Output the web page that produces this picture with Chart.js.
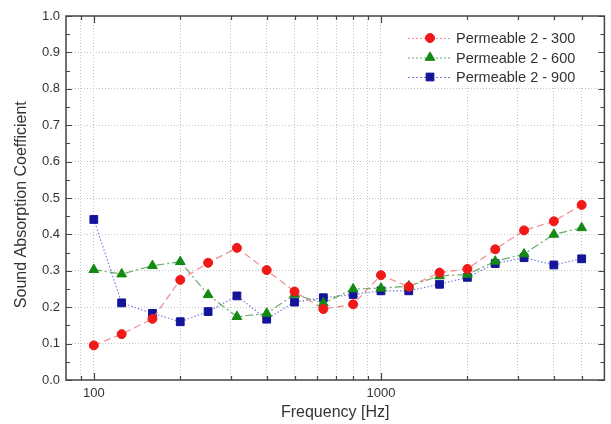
<!DOCTYPE html>
<html>
<head>
<meta charset="utf-8">
<script src="https://cdn.jsdelivr.net/npm/chart.js@4.4.1/dist/chart.umd.min.js"></script>
<style>
  html, body { margin: 0; padding: 0; background: #fff; }
  #wrap { width: 611px; height: 424px; }
</style>
</head>
<body>
<div id="wrap"><canvas id="graphAbsorption"></canvas></div>
<script>
// Basis data
var frequencies = [100, 125, 160, 200, 250, 315, 400, 500, 630, 800, 1000, 1250, 1600, 2000, 2500, 3150, 4000, 5000];
var perm300 = [0.095, 0.126, 0.168, 0.275, 0.322, 0.363, 0.302, 0.243, 0.195, 0.208, 0.288, 0.256, 0.295, 0.305, 0.359, 0.411, 0.436, 0.481];
var perm600 = [0.303, 0.291, 0.314, 0.325, 0.234, 0.174, 0.183, 0.235, 0.211, 0.250, 0.252, 0.258, 0.286, 0.290, 0.326, 0.346, 0.400, 0.418];
var perm900 = [0.441, 0.212, 0.183, 0.160, 0.188, 0.231, 0.167, 0.214, 0.226, 0.235, 0.245, 0.245, 0.263, 0.282, 0.320, 0.336, 0.316, 0.333];
var seriesLabels = ['Permeable 2 - 300', 'Permeable 2 - 600', 'Permeable 2 - 900'];
var gridFrequencies = [90, 100, 200, 300, 400, 500, 600, 700, 800, 900, 1000, 2000, 3000, 4000, 5000];
var labelFrequencies = [100, 1000];

var fontFamily = "Arial, 'Liberation Sans', sans-serif";
var textColor = '#333333';

/**
 * Pair frequencies with values
 */
function toPoints(values) {
    var points = [];
    for (var i = 0; i < frequencies.length; i++) {
        points.push({ x: frequencies[i], y: values[i] });
    }
    return points;
}

// Frame + inward ticks on all four sides
var framePlugin = {
    id: 'frame',
    afterDraw: function(chart) {
        var ctx = chart.ctx;
        var a = chart.chartArea;
        var xs = chart.scales.x;
        var ys = chart.scales.y;
        ctx.save();
        ctx.strokeStyle = '#444';
        ctx.lineWidth = 1.5;
        ctx.strokeRect(a.left, a.top, a.right - a.left, a.bottom - a.top);
        ctx.lineWidth = 1.2;
        ctx.beginPath();
        for (var v = 0; v <= 100; v += 5) {
            var y = Math.round(ys.getPixelForValue(v / 100)) + 0.5;
            var len = (v % 10 === 0) ? 6 : 4;
            ctx.moveTo(a.left, y); ctx.lineTo(a.left + len, y);
            ctx.moveTo(a.right, y); ctx.lineTo(a.right - len, y);
        }
        gridFrequencies.forEach(function(f) {
            var x = Math.round(xs.getPixelForValue(f)) + 0.5;
            var len = (labelFrequencies.indexOf(f) >= 0) ? 7 : 4;
            ctx.moveTo(x, a.bottom); ctx.lineTo(x, a.bottom - len);
            ctx.moveTo(x, a.top); ctx.lineTo(x, a.top + len);
        });
        ctx.stroke();
        ctx.restore();
    }
};

// Legend drawn inside the plot, top right
var legendPlugin = {
    id: 'innerLegend',
    afterDatasetsDraw: function(chart) {
        var ctx = chart.ctx;
        var a = chart.chartArea;
        ctx.save();
        ctx.fillStyle = '#fff';
        ctx.fillRect(384, a.top + 6, a.right - 386, 66);
        chart.data.datasets.forEach(function(ds, i) {
            var y = 38 + i * 19.5;
            ctx.save();
            ctx.strokeStyle = ds.borderColor;
            ctx.lineWidth = 1;
            ctx.setLineDash([2, 2]);
            ctx.beginPath();
            ctx.moveTo(408, y + 0.5);
            ctx.lineTo(452, y + 0.5);
            ctx.stroke();
            ctx.restore();
            ctx.fillStyle = ds.pointBackgroundColor;
            ctx.strokeStyle = ds.pointBorderColor;
            ctx.lineWidth = 1;
            Chart.helpers.drawPoint(ctx, {
                pointStyle: ds.pointStyle,
                radius: ds.pointRadius,
                rotation: 0,
                borderWidth: 1
            }, 430, y);
            ctx.fillStyle = textColor;
            ctx.font = '14.5px ' + fontFamily;
            ctx.textBaseline = 'middle';
            ctx.fillText(seriesLabels[i], 456, y + 1);
        });
        ctx.restore();
    }
};

var ctxAbsorption = document.getElementById('graphAbsorption').getContext('2d');

var chart = new Chart(ctxAbsorption, {
    type: 'line',
    data: {
        datasets: [{
            label: seriesLabels[0],
            data: toPoints(perm300),
            borderColor: 'rgba(240, 120, 120, 0.85)',
            borderWidth: 1.2,
            borderDash: [7, 4],
            pointStyle: 'circle',
            pointRadius: 4.5,
            pointBackgroundColor: '#f01818',
            pointBorderColor: '#f01818',
            pointBorderWidth: 1
        }, {
            label: seriesLabels[1],
            data: toPoints(perm600),
            borderColor: 'rgba(80, 155, 80, 0.85)',
            borderWidth: 1.2,
            borderDash: [8, 3, 2, 3],
            pointStyle: 'triangle',
            pointRadius: 5.6,
            pointBackgroundColor: '#138a13',
            pointBorderColor: '#138a13',
            pointBorderWidth: 1
        }, {
            label: seriesLabels[2],
            data: toPoints(perm900),
            borderColor: 'rgba(100, 100, 215, 0.85)',
            borderWidth: 1.2,
            borderDash: [1.5, 2],
            pointStyle: 'rect',
            pointRadius: 5.5,
            pointBackgroundColor: '#14149a',
            pointBorderColor: '#14149a',
            pointBorderWidth: 1
        }]
    },
    options: {
        responsive: true,
        maintainAspectRatio: false,
        animation: false,
        layout: { padding: { left: 0, right: 5, top: 16, bottom: 0 } },
        plugins: {
            legend: { display: false },
            tooltip: { enabled: false }
        },
        scales: {
            x: {
                type: 'logarithmic',
                min: 80,
                max: 6000,
                afterBuildTicks: function(scale) {
                    scale.ticks = gridFrequencies.map(function(f) { return { value: f }; });
                },
                afterFit: function(scale) { scale.height = 44; },
                ticks: {
                    autoSkip: false,
                    maxRotation: 0,
                    padding: 6,
                    color: textColor,
                    font: { family: fontFamily, size: 13 },
                    callback: function(value) {
                        return labelFrequencies.indexOf(value) >= 0 ? String(value) : '';
                    }
                },
                grid: { color: '#c4c4c4', lineWidth: 1, drawTicks: false },
                border: { display: false, dash: [1, 2] },
                title: {
                    display: true,
                    text: 'Frequency [Hz]',
                    color: textColor,
                    font: { family: fontFamily, size: 16 },
                    padding: { top: 0, bottom: 2 }
                }
            },
            y: {
                min: 0,
                max: 1,
                afterFit: function(scale) { scale.width = 66; },
                ticks: {
                    stepSize: 0.1,
                    padding: 6,
                    color: textColor,
                    font: { family: fontFamily, size: 13 },
                    callback: function(value) { return value.toFixed(1); }
                },
                grid: {
                    color: function(c) {
                        return (c.tick.value === 0 || c.tick.value === 1) ? 'rgba(0,0,0,0)' : '#c4c4c4';
                    },
                    lineWidth: 1,
                    drawTicks: false
                },
                border: { display: false, dash: [1, 2] },
                title: {
                    display: true,
                    text: 'Sound Absorption Coefficient   ',
                    color: textColor,
                    font: { family: fontFamily, size: 16 },
                    padding: { top: 12, bottom: 0 }
                }
            }
        }
    },
    plugins: [framePlugin, legendPlugin]
});
</script>
</body>
</html>
